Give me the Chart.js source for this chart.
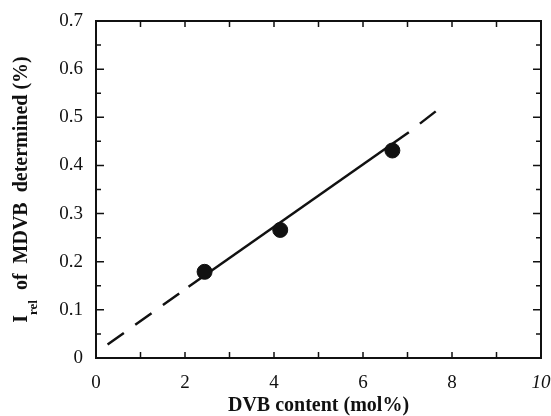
<!DOCTYPE html>
<html>
<head>
<meta charset="utf-8">
<script src="https://cdn.jsdelivr.net/npm/chart.js@4/dist/chart.umd.min.js"></script>
<style>
  body { margin: 0; background: #fff; }
  canvas { display: block; }
</style>
</head>
<body>
<canvas id="chartDvb" width="551" height="416"></canvas>
<script>
// measured points
const dvb = [2.44, 4.14, 6.66];
const irel = [0.179, 0.266, 0.431];

// fitted line: solid part and dashed extensions
const fitX = [2.08, 7.03];
const fitY = [0.148, 0.469];
const lowDashX = [0.26, 2.08];
const lowDashY = [0.028, 0.148];
const highDashX = [7.03, 7.70];
const highDashY = [0.469, 0.517];

// ticks
const xTickLabels = [0, 2, 4, 6, 8, 10];
const yTickLabels = [0, 0.1, 0.2, 0.3, 0.4, 0.5, 0.6, 0.7];
const xTickMarks = [1, 2, 3, 4, 5, 6, 7, 8, 9];
const yTickMarks = [0.05, 0.1, 0.15, 0.2, 0.25, 0.3, 0.35, 0.4, 0.45, 0.5, 0.55, 0.6, 0.65];

const INK = "#111";
const SERIF = "'Liberation Serif', 'Times New Roman', serif";

function pts(xs, ys) {
    return xs.map((x, i) => ({ x: x, y: ys[i] }));
}

function lineSet(xs, ys, dash, dashOffset) {
    return {
        type: "line",
        data: pts(xs, ys),
        borderColor: INK,
        borderWidth: 2.5,
        borderDash: dash,
        borderDashOffset: dashOffset || 0,
        pointRadius: 0,
        fill: false
    };
}

// box, inward tick marks and the y title with its subscript
const framePlugin = {
    id: "frame",
    afterDraw(chart) {
        const ctx = chart.ctx;
        const a = chart.chartArea;
        const xs = chart.scales.x;
        const ys = chart.scales.y;
        ctx.save();
        ctx.strokeStyle = INK;
        ctx.lineWidth = 2;
        ctx.strokeRect(a.left, a.top, a.right - a.left, a.bottom - a.top);

        ctx.lineWidth = 1.5;
        ctx.beginPath();
        xTickMarks.forEach(v => {
            const px = xs.getPixelForValue(v);
            ctx.moveTo(px, a.bottom);
            ctx.lineTo(px, a.bottom - 6);
            ctx.moveTo(px, a.top);
            ctx.lineTo(px, a.top + 6);
        });
        yTickMarks.forEach(v => {
            const py = ys.getPixelForValue(v);
            const len = Math.round(v * 100) % 10 === 0 ? 8 : 5;
            ctx.moveTo(a.left, py);
            ctx.lineTo(a.left + len, py);
            ctx.moveTo(a.right, py);
            ctx.lineTo(a.right - len, py);
        });
        ctx.stroke();

        // y axis title: I_rel of MDVB determined (%)
        const main = "bold 20px " + SERIF;
        const sub = "bold 13px " + SERIF;
        const rest = "  of  MDVB  determined (%)";
        ctx.font = main;
        const wI = ctx.measureText("I").width;
        const wRest = ctx.measureText(rest).width;
        ctx.font = sub;
        const wSub = ctx.measureText("rel").width;
        const total = wI + wSub + wRest;

        ctx.translate(26.5, (a.top + a.bottom) / 2);
        ctx.rotate(-Math.PI / 2);
        ctx.fillStyle = INK;
        ctx.textBaseline = "alphabetic";
        ctx.textAlign = "left";
        let x0 = -total / 2;
        ctx.font = main;
        ctx.fillText("I", x0, 0);
        x0 += wI;
        ctx.font = sub;
        ctx.fillText("rel", x0, 10);
        x0 += wSub;
        ctx.font = main;
        ctx.fillText(rest, x0, 0);
        ctx.restore();
    }
};

new Chart(document.getElementById("chartDvb"), {
    type: "scatter",
    data: {
        datasets: [
            {
                data: pts(dvb, irel),
                backgroundColor: INK,
                borderColor: INK,
                pointRadius: 7.5,
                pointHoverRadius: 7.5
            },
            lineSet(fitX, fitY, []),
            lineSet(lowDashX, lowDashY, [20, 14]),
            lineSet(highDashX, highDashY, [20, 14], 20)
        ]
    },
    options: {
        responsive: false,
        animation: false,
        layout: { padding: { top: 21, right: 10, left: 0, bottom: 0 } },
        plugins: {
            legend: { display: false },
            tooltip: { enabled: false }
        },
        scales: {
            x: {
                type: "linear",
                min: 0,
                max: 10,
                grid: { display: false },
                border: { display: false },
                afterBuildTicks: s => { s.ticks = xTickLabels.map(v => ({ value: v })); },
                afterFit: s => { s.height = 58; s.paddingLeft = 0; s.paddingRight = 0; },
                ticks: {
                    color: INK,
                    padding: 6,
                    maxRotation: 0,
                    autoSkip: false,
                    font: c => ({
                        family: SERIF,
                        size: 19,
                        style: c.tick && c.tick.value === 10 ? "italic" : "normal"
                    })
                },
                title: {
                    display: true,
                    text: "DVB content (mol%)",
                    color: INK,
                    font: { family: SERIF, size: 20, weight: "bold" },
                    padding: { top: 0, bottom: -2 }
                }
            },
            y: {
                type: "linear",
                min: 0,
                max: 0.7,
                grid: { display: false },
                border: { display: false },
                afterBuildTicks: s => { s.ticks = yTickLabels.map(v => ({ value: v })); },
                afterFit: s => { s.width = 96; s.paddingTop = 0; s.paddingBottom = 0; },
                ticks: {
                    color: INK,
                    padding: 5,
                    autoSkip: false,
                    font: { family: SERIF, size: 19 },
                    callback: v => v === 0 ? "0" : v.toFixed(1)
                }
            }
        }
    },
    plugins: [framePlugin]
});
</script>
</body>
</html>
